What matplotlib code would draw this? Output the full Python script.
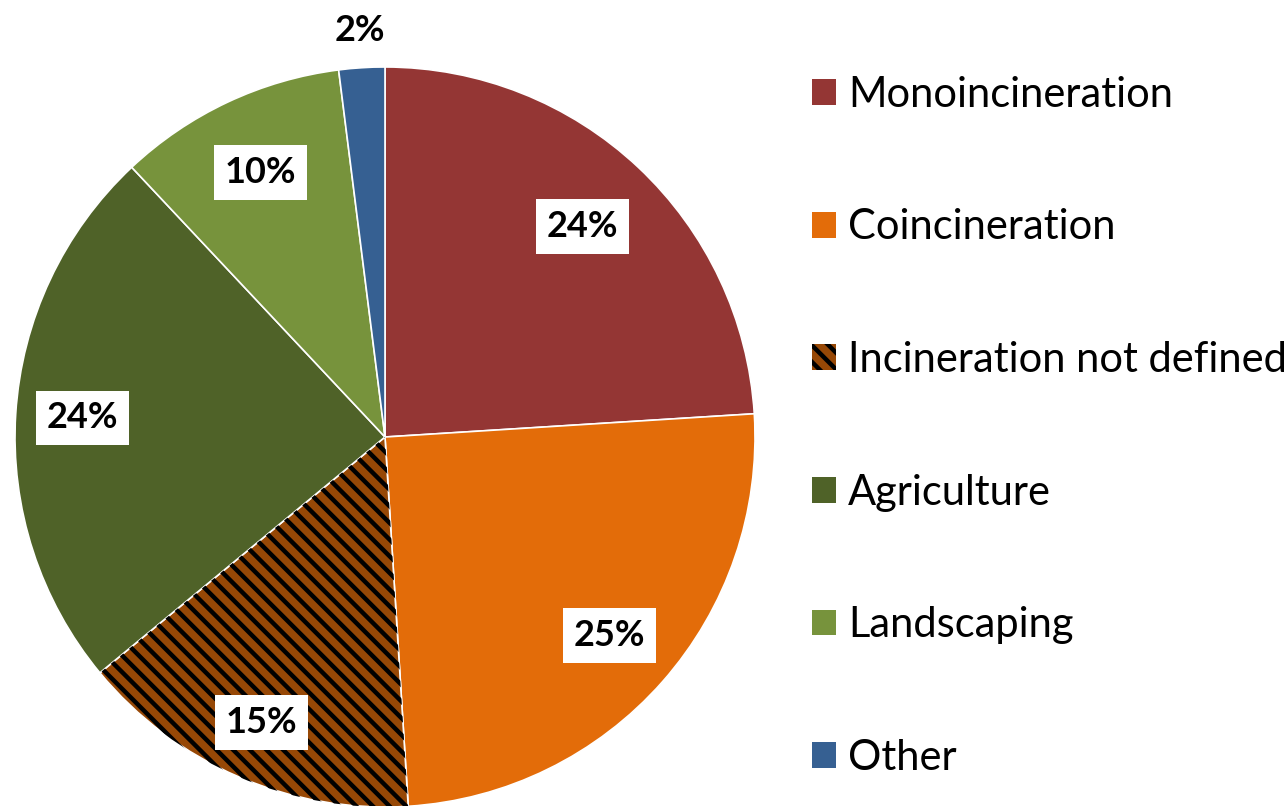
import numpy as np
import matplotlib.pyplot as plt
from matplotlib.patches import Wedge, Patch

# Data
categories = ['Monoincineration', 'Coincineration', 'Incineration not defined',
              'Agriculture', 'Landscaping', 'Other']
shares = [24, 25, 15, 24, 10, 2]
pct_labels = ['24%', '25%', '15%', '24%', '10%', '2%']

colors = ['#943634', '#E36C09', '#974806', '#4F6228', '#77933C', '#366092']
hatches = [None, None, '\\\\', None, None, None]
label_dist = [0.78, 0.81, 0.84, 0.82, 0.79, 1.10]

plt.rcParams['font.family'] = ['Lato', 'DejaVu Sans']
plt.rcParams['hatch.linewidth'] = 3.2

fig = plt.figure(figsize=(12.85, 8.06), dpi=100)
W, H = 1285, 806
cx, cy, R = 385, 437, 370
ax = fig.add_axes([(cx - R) / W, (H - cy - R) / H, 2 * R / W, 2 * R / H])

wedges, _ = ax.pie(shares, colors=colors, startangle=90, counterclock=False,
                   radius=1, wedgeprops=dict(edgecolor='white', linewidth=1.2))

# black hatch drawn on top of the hatched slices
handles = []
for w, h, c in zip(wedges, hatches, colors):
    if h:
        over = Wedge(w.center, w.r, w.theta1, w.theta2, facecolor='none',
                     edgecolor='black', linewidth=0, hatch=h)
        ax.add_patch(over)
        handles.append(Patch(facecolor=c, edgecolor='black', linewidth=0, hatch='\\\\'))
    else:
        handles.append(Patch(facecolor=c, edgecolor='none'))

# Percent labels in white boxes
for w, lab, d in zip(wedges, pct_labels, label_dist):
    mid = np.deg2rad((w.theta1 + w.theta2) / 2)
    x, y = d * np.cos(mid), d * np.sin(mid)
    box = dict(boxstyle='square,pad=0.3', fc='white', ec='none') if d < 1 else None
    ax.text(x, y, lab, ha='center', va='center', fontsize=26, fontweight='bold',
            color='black', bbox=box, zorder=5)

ax.set_xlim(-1, 1)
ax.set_ylim(-1, 1)
ax.set_aspect('equal')
ax.axis('off')

fig.legend(handles, categories, loc='center left', bbox_to_anchor=(774 / W, 0.471),
           frameon=False, fontsize=30, handlelength=0.58, handleheight=0.58,
           handletextpad=0.3, labelspacing=2.27)

fig.savefig('out.png', dpi=100)
